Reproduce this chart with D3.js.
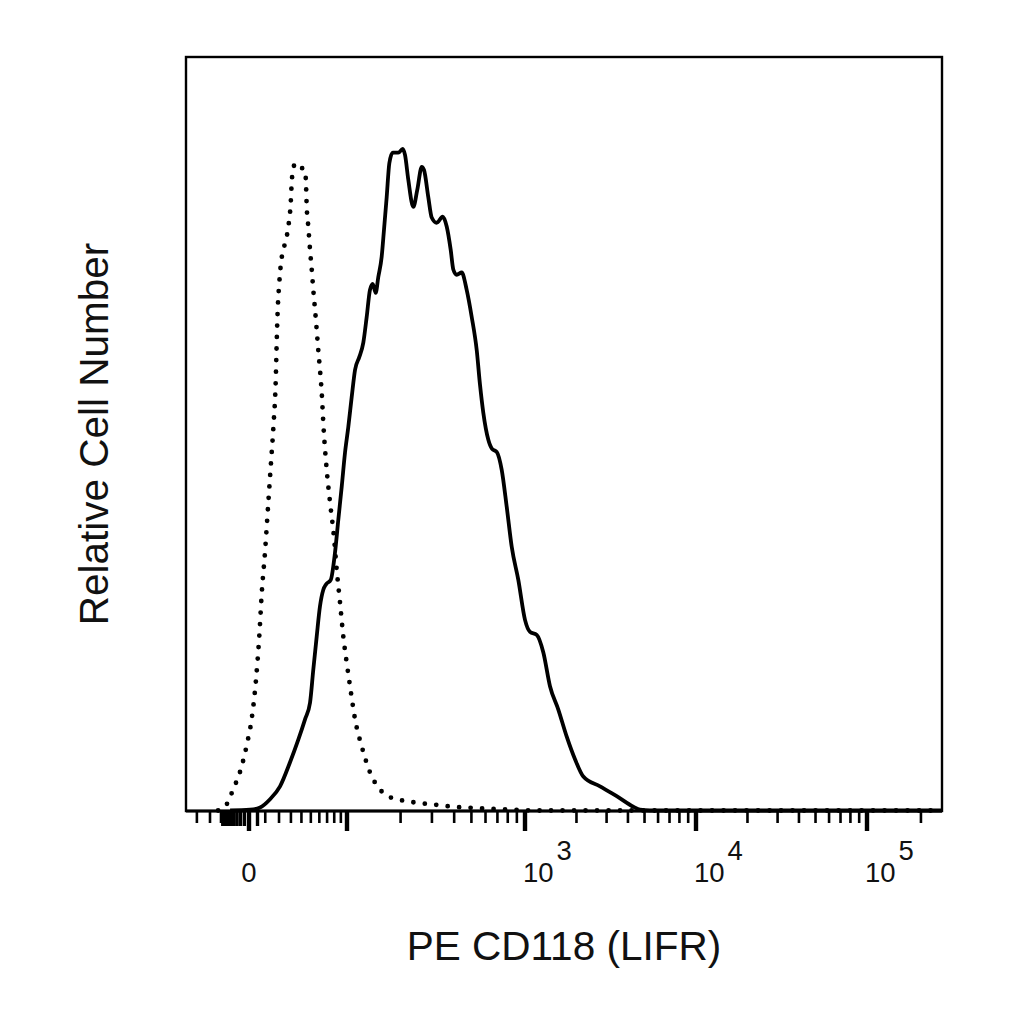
<!DOCTYPE html>
<html>
<head>
<meta charset="utf-8">
<script src="https://cdn.jsdelivr.net/npm/d3@7/dist/d3.min.js"></script>
<style>
  html, body { margin: 0; padding: 0; background: #fff; }
  svg { display: block; }
  text { font-family: "Liberation Sans", Arial, Helvetica, sans-serif; fill: #111; }
</style>
</head>
<body>
<svg id="chart" width="1024" height="1024"></svg>
<script>
// ---- Data (fluorescence intensity vs relative cell number) ----
const isotypeX = [-120, -78, -43, -17, -3.5, 1.5, 4.1, 6.1, 7.7, 9.8, 12.1, 14.0, 15.8, 17.5, 18.2, 19.0, 20.2, 21.6, 23.4, 25.7, 27.7, 29.8, 30.7, 32.2, 35.4, 38.6, 43.7, 44.7, 45.5, 47.2, 49.1, 51.0, 52.8, 54.8, 56.8, 58.7, 60.8, 63.0, 65.3, 69.5, 74.0, 79.6, 83.6, 88.7, 93.9, 99.5, 104, 111, 121, 135, 153, 170, 191, 235, 304, 394, 559, 856, 1224, 262144];
const isotypeY = [0, 0.5, 2.8, 5.8, 9.0, 12.1, 17.4, 23.1, 28.9, 34.2, 40.9, 46.2, 51.1, 57.2, 62.1, 66.5, 70.0, 72.7, 74.4, 75.7, 77.5, 80.6, 83.3, 85.4, 85.9, 85.4, 85.0, 83.3, 80.1, 77.5, 74.4, 71.8, 69.1, 66.5, 63.8, 61.1, 58.5, 55.4, 50.9, 45.2, 40.9, 36.3, 32.0, 27.6, 23.1, 19.6, 16.5, 12.1, 8.5, 5.0, 2.8, 1.9, 1.5, 1.1, 0.8, 0.5, 0.3, 0.1, 0, 0];

const stainedX = [-55, 0.56, 6.6, 13.3, 20.8, 29.2, 36.9, 43.7, 49.1, 52.8, 56.8, 60.8, 65.0, 68.5, 75.0, 81.1, 86.1, 91.4, 96.7, 101.7, 106.3, 111, 117.3, 123.5, 129, 134.6, 139.5, 144.9, 149.9, 156.6, 161.4, 167.1, 172.9, 180.6, 194.2, 205.6, 211.8, 221, 235.8, 248.3, 262.8, 270.8, 286.2, 299.1, 319.1, 344.8, 363.2, 382.5, 395.5, 413.3, 441, 470.3, 501.9, 535.5, 558.8, 583.1, 622.2, 652.8, 693.4, 739.9, 789.3, 842.1, 917.1, 1000, 1070, 1171, 1279, 1400, 1566, 1754, 1961, 2193, 2746, 3438, 4299, 4703, 5383, 262144];
const stainedY = [0, 0.1, 0.4, 1.5, 3.2, 6.4, 9.4, 12.1, 14.3, 18.7, 23.1, 27.1, 29.3, 30.0, 30.6, 34.2, 38.6, 43.0, 47.5, 50.9, 54.9, 58.5, 60.2, 62.1, 65.5, 69.1, 69.9, 68.7, 70.8, 73.5, 77.1, 81.4, 85.9, 87.3, 87.3, 87.8, 87.0, 83.7, 80.1, 82.4, 85.4, 85.0, 81.4, 78.7, 78.0, 78.8, 77.5, 74.4, 71.8, 71.1, 71.4, 69.1, 65.5, 61.1, 56.5, 52.8, 49.2, 48.0, 47.6, 45.2, 40.3, 35.0, 30.6, 25.3, 23.7, 23.3, 21.0, 16.5, 13.4, 9.8, 6.8, 4.5, 3.2, 1.9, 0.5, 0.1, 0, 0];

// ---- Axis ticks ----
const majorTicks = [0, 100, 1000, 10000, 100000];
const nearZeroTicks = [-90, -80, -70, -60, -50, -40, -30, -20, -10, 5];
const minorTicks = [-300, -200, -100,
  10, 20, 30, 40, 50, 60, 70, 80, 90,
  200, 300, 400, 500, 600, 700, 800, 900,
  2000, 3000, 4000, 5000, 6000, 7000, 8000, 9000,
  20000, 30000, 40000, 50000, 60000, 70000, 80000, 90000, 200000];
const tickLabels = [
  { value: 0, base: "0", exp: "" },
  { value: 1000, base: "10", exp: "3" },
  { value: 10000, base: "10", exp: "4" },
  { value: 100000, base: "10", exp: "5" }
];
const xTitle = "PE CD118 (LIFR)";
const yTitle = "Relative Cell Number";
const xDomainMin = -420, xDomainMax = 262144;

// ---- Logicle-like display transform (linear-ish near 0, log above 100) ----
function disp(v) {
  const a = Math.abs(v), s = v < 0 ? -1 : 1;
  if (a < 100) return s * Math.log1p(a / 50) / Math.log(3);
  return s * (Math.log10(a) - 1);
}

const L = 186, R = 942, T = 57, B = 811;
const svg = d3.select("#chart");
svg.append("rect").attr("width", 1024).attr("height", 1024).attr("fill", "#fff");

const x = d3.scaleLinear()
  .domain([xDomainMin, -200, -100, 0, 100, 1000, 10000, 100000, xDomainMax].map(disp))
  .range([L, 210, 221, 249, 347, 525, 696, 867, R]);
const y = d3.scaleLinear().domain([0, 100]).range([B - 0.5, T]);

const line = d3.line()
  .x(d => x(disp(d[0])))
  .y(d => y(d[1]))
  .curve(d3.curveMonotoneX);

// frame
svg.append("rect")
  .attr("x", L).attr("y", T).attr("width", R - L).attr("height", B - T)
  .attr("fill", "none").attr("stroke", "#000").attr("stroke-width", 2.4);

// curves
svg.append("path")
  .datum(isotypeX.map((v, i) => [v, isotypeY[i]]))
  .attr("d", line)
  .attr("fill", "none").attr("stroke", "#000")
  .attr("stroke-width", 4.8).attr("stroke-linecap", "round")
  .attr("stroke-dasharray", "0 11.5");

svg.append("path")
  .datum(stainedX.map((v, i) => [v, stainedY[i]]))
  .attr("d", line)
  .attr("fill", "none").attr("stroke", "#000")
  .attr("stroke-width", 3.8).attr("stroke-linejoin", "round");

// bottom axis line
svg.append("line").attr("x1", L).attr("x2", R).attr("y1", B).attr("y2", B)
  .attr("stroke", "#000").attr("stroke-width", 2.8);

// ticks
const axisG = svg.append("g");
axisG.selectAll("line.minor").data(minorTicks).join("line")
  .attr("class", "minor")
  .attr("x1", d => x(disp(d))).attr("x2", d => x(disp(d)))
  .attr("y1", B).attr("y2", B + 12)
  .attr("stroke", "#000").attr("stroke-width", 2.6);
axisG.selectAll("line.zero").data(nearZeroTicks).join("line")
  .attr("class", "zero")
  .attr("x1", d => x(disp(d))).attr("x2", d => x(disp(d)))
  .attr("y1", B).attr("y2", B + 15)
  .attr("stroke", "#000").attr("stroke-width", 3.4);
axisG.selectAll("line.major").data(majorTicks).join("line")
  .attr("class", "major")
  .attr("x1", d => x(disp(d))).attr("x2", d => x(disp(d)))
  .attr("y1", B).attr("y2", B + 20)
  .attr("stroke", "#000").attr("stroke-width", 4.4);

// tick labels
const lab = axisG.selectAll("text.tl").data(tickLabels).join("text")
  .attr("class", "tl")
  .attr("font-size", 27.5)
  .attr("x", d => d.exp ? x(disp(d.value)) - 2 : x(disp(d.value)))
  .attr("y", 882)
  .attr("text-anchor", d => d.exp ? "start" : "middle");
lab.append("tspan").text(d => d.base);
lab.filter(d => d.exp).append("tspan").attr("dx", 3).attr("dy", -22).text(d => d.exp);

// axis titles
svg.append("text").attr("x", 564).attr("y", 960).attr("text-anchor", "middle")
  .attr("font-size", 40.5).text(xTitle);
svg.append("text").attr("transform", "translate(108,434) rotate(-90)")
  .attr("text-anchor", "middle").attr("font-size", 40.5).text(yTitle);
</script>
</body>
</html>
